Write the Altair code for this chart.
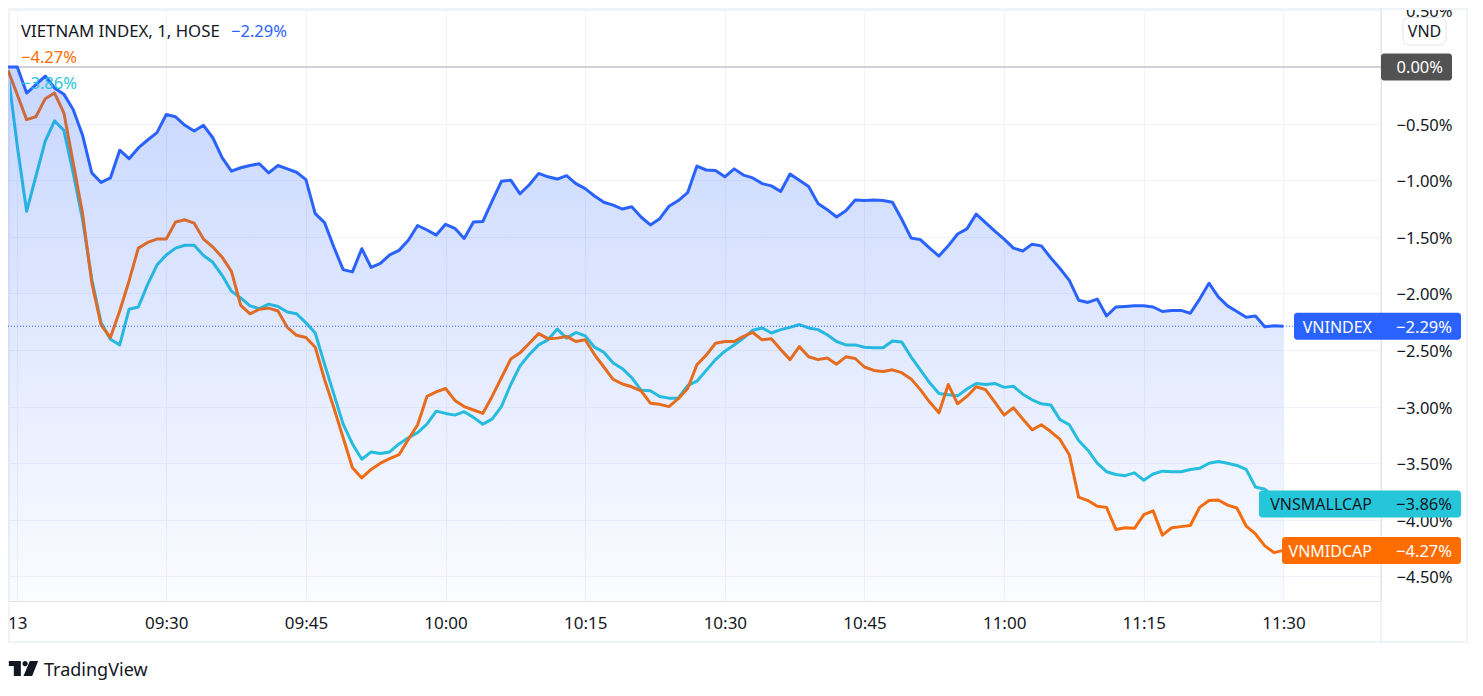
import pandas as pd
import altair as alt

FONT = "Noto Sans"
TEXT = "#131722"
GRID = "#f0f3fa"
EDGE = "#e0e3eb"
BLUE = "#2962ff"
ORANGE = "#ff6d00"
CYAN = "#26c6da"

# ---------- data (percent change, one value per minute from 09:13) ----------

minutes = list(range(553, 691))

vnindex = [
    0, 0, -0.23, -0.155, -0.08, -0.185, -0.24, -0.375, -0.60, -0.935,
    -1.02, -0.98, -0.735, -0.81, -0.715, -0.645, -0.58, -0.42, -0.44, -0.515,
    -0.565, -0.515, -0.625, -0.80, -0.92, -0.89, -0.87, -0.855, -0.935, -0.87,
    -0.90, -0.93, -0.995, -1.295, -1.375, -1.59, -1.79, -1.81, -1.605, -1.77,
    -1.735, -1.66, -1.62, -1.53, -1.40, -1.44, -1.485, -1.39, -1.425, -1.515,
    -1.37, -1.365, -1.185, -1.01, -1.00, -1.12, -1.04, -0.94, -0.97, -0.99,
    -0.96, -1.03, -1.075, -1.14, -1.195, -1.22, -1.255, -1.235, -1.325, -1.395,
    -1.34, -1.23, -1.18, -1.11, -0.875, -0.91, -0.915, -0.97, -0.90, -0.955,
    -0.98, -1.03, -1.05, -1.10, -0.945, -1.00, -1.055, -1.205, -1.26, -1.325,
    -1.27, -1.175, -1.18, -1.175, -1.18, -1.195, -1.345, -1.51, -1.525, -1.60,
    -1.67, -1.58, -1.475, -1.43, -1.30, -1.375, -1.45, -1.52, -1.60, -1.625,
    -1.565, -1.58, -1.685, -1.78, -1.885, -2.06, -2.08, -2.05, -2.20, -2.12,
    -2.115, -2.11, -2.11, -2.12, -2.16, -2.15, -2.15, -2.175, -2.05, -1.91,
    -2.03, -2.11, -2.16, -2.21, -2.20, -2.295, -2.285, -2.29,
]

vnmidcap = [
    -0.03, -0.245, -0.465, -0.44, -0.28, -0.23, -0.405, -0.845, -1.29, -1.905,
    -2.28, -2.39, -2.155, -1.89, -1.60, -1.55, -1.52, -1.52, -1.37, -1.35,
    -1.38, -1.52, -1.59, -1.68, -1.805, -2.105, -2.18, -2.14, -2.13, -2.155,
    -2.30, -2.37, -2.39, -2.475, -2.76, -3.01, -3.275, -3.54, -3.63, -3.555,
    -3.50, -3.46, -3.425, -3.29, -3.16, -2.91, -2.87, -2.84, -2.945, -3.00,
    -3.03, -3.06, -2.91, -2.745, -2.58, -2.525, -2.44, -2.355, -2.40, -2.395,
    -2.38, -2.425, -2.41, -2.54, -2.65, -2.76, -2.80, -2.825, -2.86, -2.97,
    -2.98, -3.00, -2.93, -2.84, -2.63, -2.545, -2.44, -2.425, -2.425, -2.38,
    -2.345, -2.41, -2.40, -2.495, -2.585, -2.47, -2.56, -2.585, -2.57, -2.625,
    -2.56, -2.575, -2.65, -2.68, -2.69, -2.675, -2.70, -2.755, -2.85, -2.96,
    -3.055, -2.805, -2.975, -2.91, -2.825, -2.85, -2.96, -3.075, -3.01, -3.11,
    -3.205, -3.16, -3.22, -3.29, -3.425, -3.80, -3.83, -3.88, -3.89, -4.085,
    -4.07, -4.075, -3.955, -3.92, -4.135, -4.07, -4.06, -4.05, -3.89, -3.83,
    -3.825, -3.87, -3.895, -4.055, -4.125, -4.23, -4.29, -4.27,
]

vnsmallcap = [
    -0.05, -0.70, -1.275, -0.965, -0.655, -0.475, -0.56, -0.935, -1.345, -1.875,
    -2.26, -2.405, -2.455, -2.14, -2.12, -1.92, -1.75, -1.66, -1.60, -1.575,
    -1.575, -1.665, -1.725, -1.84, -1.98, -2.04, -2.11, -2.135, -2.095, -2.115,
    -2.165, -2.18, -2.26, -2.35, -2.625, -2.89, -3.155, -3.33, -3.465, -3.40,
    -3.415, -3.40, -3.33, -3.275, -3.23, -3.155, -3.04, -3.06, -3.075, -3.045,
    -3.095, -3.155, -3.11, -3.00, -2.805, -2.64, -2.54, -2.455, -2.41, -2.315,
    -2.395, -2.345, -2.375, -2.475, -2.52, -2.615, -2.665, -2.745, -2.855, -2.86,
    -2.91, -2.925, -2.925, -2.815, -2.775, -2.68, -2.585, -2.51, -2.455, -2.395,
    -2.325, -2.305, -2.35, -2.32, -2.30, -2.275, -2.305, -2.32, -2.365, -2.425,
    -2.455, -2.455, -2.475, -2.48, -2.48, -2.42, -2.43, -2.56, -2.675, -2.79,
    -2.885, -2.895, -2.905, -2.845, -2.795, -2.805, -2.795, -2.83, -2.82, -2.89,
    -2.94, -2.975, -2.985, -3.115, -3.16, -3.30, -3.385, -3.50, -3.575, -3.60,
    -3.61, -3.585, -3.65, -3.595, -3.57, -3.575, -3.575, -3.555, -3.545, -3.50,
    -3.485, -3.50, -3.52, -3.555, -3.71, -3.73, -3.80, -3.86,
]

x_ticks = [554, 570, 585, 600, 615, 630, 645, 660, 675, 690]
y_ticks = [0.5, 0, -0.5, -1, -1.5, -2, -2.5, -3, -3.5, -4, -4.5]

series_names = ["VNINDEX", "VNSMALLCAP", "VNMIDCAP"]
last_values = [-2.29, -3.86, -4.27]
last_labels = ["−2.29%", "−3.86%", "−4.27%"]

df = pd.DataFrame(
    {"minute": minutes, "vnindex": vnindex, "vnmidcap": vnmidcap, "vnsmallcap": vnsmallcap}
)

# ---------- shared scales ----------

W, H = 1373, 593
Y_MIN, Y_MAX = -4.717, 0.521
x_scale = alt.Scale(domain=[553, 700.48], nice=False, zero=False)
y_scale = alt.Scale(domain=[Y_MIN, Y_MAX], nice=False, zero=False)
BADGE_HALF = 13.5 / 113.2  # 27px tall label expressed in percent

df["floor"] = Y_MIN

x_enc = alt.X(
    "minute:Q",
    scale=x_scale,
    title=None,
    axis=alt.Axis(
        values=x_ticks,
        labelExpr="datum.value == 554 ? '13' : format(floor(datum.value / 60), '02d') + ':' + format(datum.value % 60, '02d')",
        grid=True,
        gridColor=GRID,
        ticks=False,
        domainColor=EDGE,
        labelFont=FONT,
        labelFontSize=17,
        labelColor=TEXT,
        labelPadding=14,
        labelOverlap=False,
        labelBound=False,
        labelFlush=False,
    ),
)


def y_enc(field):
    return alt.Y(
        field + ":Q",
        scale=y_scale,
        title=None,
        axis=alt.Axis(
            orient="right",
            values=y_ticks,
            labelExpr="replace(format(datum.value, '.2f'), '-', '−') + '%'",
            grid=True,
            gridColor=GRID,
            ticks=False,
            domainColor=EDGE,
            labelFont=FONT,
            labelFontSize=16.5,
            labelColor=TEXT,
            labelAlign="right",
            labelPadding=71,
            labelOffset=1.5,
            labelOverlap=False,
            labelBound=False,
            labelFlush=False,
        ),
    )


def series_line(field, color):
    return (
        alt.Chart(df)
        .mark_line(color=color, strokeWidth=3, strokeJoin="round")
        .encode(x=x_enc, y=y_enc(field))
    )


def label(text, x, y, color=TEXT, align="left", size=16.5):
    # y is either a pixel position or a datum on the percent scale
    return (
        alt.Chart(pd.DataFrame({"t": [text]}))
        .mark_text(font=FONT, fontSize=size, color=color, align=align, baseline="middle", dy=1.5)
        .encode(text="t:N", x=alt.value(x), y=y)
    )


def badge(value, left, right, color):
    return (
        alt.Chart(pd.DataFrame({"hi": [value + BADGE_HALF], "lo": [value - BADGE_HALF]}))
        .mark_rect(color=color, cornerRadius=3)
        .encode(
            x=alt.value(left),
            x2=alt.value(right),
            y=alt.Y("hi:Q", scale=y_scale, title=None),
            y2="lo:Q",
        )
    )


# ---------- chart furniture ----------

frame = (
    alt.Chart(df.head(1))
    .mark_rect(fill="white", fillOpacity=0, stroke=GRID, strokeWidth=2)
    .encode(x=alt.value(1), x2=alt.value(1459), y=alt.value(1), y2=alt.value(634))
)
price_edge = (
    alt.Chart(df.head(1))
    .mark_rule(color=EDGE)
    .encode(x=alt.value(W), y=alt.value(0), y2=alt.value(634))
)
zero_line = alt.Chart(df.head(1)).mark_rule(color="#a8abb3").encode(y=alt.datum(0))

area = (
    alt.Chart(df)
    .mark_area(
        color=alt.Gradient(
            gradient="linear",
            stops=[
                alt.GradientStop(color="rgba(41,98,255,0.26)", offset=0),
                alt.GradientStop(color="rgba(41,98,255,0.02)", offset=1),
            ],
            x1=1,
            x2=1,
            y1=0,
            y2=1,
        )
    )
    .encode(x=x_enc, y=y_enc("vnindex"), y2="floor:Q")
)
last_dotted = (
    alt.Chart(df.head(1))
    .mark_rule(color=BLUE, strokeDash=[1, 2])
    .encode(y=alt.datum(last_values[0]), x=alt.value(0), x2=alt.value(1286))
)

layers = [
    series_line("vnsmallcap", CYAN),
    frame,
    price_edge,
    zero_line,
    series_line("vnmidcap", ORANGE),
    area,
    series_line("vnindex", BLUE),
    last_dotted,
]

# ---------- price labels on the right ----------

badge_lefts = [1286, 1251, 1274]
badge_colors = [BLUE, CYAN, ORANGE]
badge_text = ["white", TEXT, "white"]
for name, val, lab, left, col, tcol in zip(
    series_names, last_values, last_labels, badge_lefts, badge_colors, badge_text
):
    layers.append(badge(val, left, 1453, col))
    layers.append(label(name, 1364, alt.datum(val), tcol, "right", 16))
    layers.append(label(lab, 1444, alt.datum(val), tcol, "right"))

layers.append(badge(0, W, 1444, "#525252"))
layers.append(label("0.00%", 1435, alt.datum(0), "white", "right"))

# ---------- currency box ----------

layers.append(
    alt.Chart(df.head(1))
    .mark_rect(fill="white", stroke=EDGE, cornerRadius=6)
    .encode(x=alt.value(1395), x2=alt.value(1438), y=alt.value(9.5), y2=alt.value(37))
)
layers.append(label("VND", 1416.5, alt.value(22), TEXT, "center", 16))

# ---------- legend ----------

layers.append(label("VIETNAM INDEX, 1, HOSE", 13, alt.value(22), TEXT, "left", 16.8))
layers.append(label(last_labels[0], 223, alt.value(22), BLUE))
layers.append(label(last_labels[2], 13, alt.value(48), ORANGE))
layers.append(label(last_labels[1], 13, alt.value(74), CYAN))

# ---------- logo ----------

LOGO = (
    "M-1 -0.51L-0.18 -0.51L-0.18 0.51L-0.66 0.51L-0.66 -0.17L-1 -0.17Z"
    "M-0.07 -0.33a0.18 0.18 0 1 0 0.36 0a0.18 0.18 0 1 0 -0.36 0Z"
    "M0.43 -0.51L1 -0.51L0.59 0.51L0 0.51Z"
)
layers.append(
    alt.Chart(df.head(1))
    .mark_point(shape=LOGO, filled=True, color=TEXT, opacity=1, size=860)
    .encode(x=alt.value(15.5), y=alt.value(660.5))
)
layers.append(label("TradingView", 36, alt.value(661), TEXT, "left", 18))

chart = (
    alt.layer(*layers)
    .properties(
        width=W,
        height=H,
        padding={"left": 0, "top": 0, "right": 93, "bottom": 85},
        autosize=alt.AutoSizeParams(type="none"),
        background="white",
    )
    .configure_view(strokeWidth=0)
)

chart.save("out.html", embed_options={"renderer": "svg", "actions": False})
